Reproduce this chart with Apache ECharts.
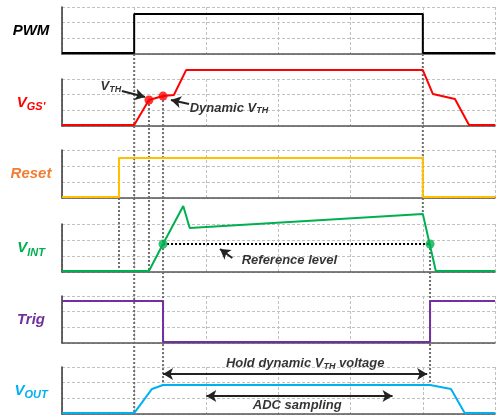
<!DOCTYPE html>
<html><head><meta charset="utf-8">
<script src="https://cdn.jsdelivr.net/npm/echarts@6/dist/echarts.min.js"></script>
<style>html,body{margin:0;padding:0;background:#fff}#c{width:499px;height:419px}</style>
</head><body><div id="c"></div>
<script>
// panel names (y-axis labels)
const panelNames = ['PWM', "VGS'", 'Reset', 'VINT', 'Trig', 'VOUT'];
// signal waveforms: [time, level] in grid units (time 0..6, level 0..3)
const pwm   = [[0,0.06],[1.0,0.06],[1.0,2.55],[5.0,2.55],[5.0,0.06],[6,0.06]];
const vgs   = [[0,0.06],[1.0,0.06],[1.205,1.66],[1.40,1.91],[1.55,1.98],[1.72,3.57],[5.0,3.57],[5.14,2.04],[5.445,1.72],[5.64,0.06],[6,0.06]];
const reset = [[0,0.06],[0.79,0.06],[0.79,2.5],[5.0,2.5],[5.0,0.06],[6,0.06]];
const vint  = [[0,0.06],[1.205,0.06],[1.40,1.75],[1.68,4.12],[1.77,2.75],[5.0,3.62],[5.18,0.06],[6,0.06]];
const trig  = [[0,2.68],[1.40,2.68],[1.40,0.06],[5.10,0.06],[5.10,2.68],[6,2.68]];
const vout  = [[0,0.06],[1.0,0.06],[1.247,1.6],[1.40,1.85],[5.10,1.85],[5.39,1.6],[5.58,0.06],[6,0.06]];
// key points
const vgsDots  = [[1.205,1.66],[1.40,1.91]];
const vintDots = [[1.40,1.75],[5.10,1.75]];
const refLevel = [[1.40,1.75],[5.10,1.75]];
// vertical dotted markers: [time, fromPanel, fromLevel, toPanel, toLevel]
const markers = [
  [1.0, 0, 0, 5, 0],
  [0.79, 2, 0, 3, 0],
  [1.205, 1, 1.66, 3, 0.06],
  [1.40, 1, 1.91, 5, 1.85],
  [5.0, 0, 0, 3, 3.62],
  [5.10, 3, 1.75, 5, 1.85]
];
// arrows: [panel, x1, y1, x2, y2, both]
const arrows = [
  [1, 0.83, 2.23, 1.15, 1.85, false],
  [1, 1.76, 1.40, 1.51, 1.66, false],
  [3, 2.36, 0.875, 2.19, 1.44, false],
  [5, 1.40, 2.55, 5.06, 2.55, true],
  [5, 2.0, 1.15, 4.58, 1.15, true]
];
// text annotations: [panel, x, y, rich text, anchor]
const notes = [
  [1, 0.82, 2.55, '{t|V}{s|TH}', 'left'],
  [1, 1.77, 1.15, '{t|Dynamic V}{s|TH}', 'right'],
  [3, 2.49, 0.75, '{t|Reference level}', 'right'],
  [5, 3.37, 3.25, '{t|Hold dynamic V}{s|TH}{t| voltage}', 'inside'],
  [5, 3.26, 0.57, '{t|ADC sampling}', 'inside']
];

const colors = ['#000000', '#ff0000', '#ffc000', '#00b050', '#7030a0', '#00b0f0'];
const labelColors = ['#000000', '#ff0000', '#f07d32', '#00b050', '#7030a0', '#00b0f0'];
const labelFmt = ['{m|PWM}', "{m|V}{s|GS'}", '{m|Reset}', '{m|V}{s|INT}', '{m|Trig}', '{m|V}{s|OUT}'];
const signals = [pwm, vgs, reset, vint, trig, vout];
const tops = [7, 79, 150, 224, 296, 367];
const heights = [47, 47, 48, 48, 47, 47];
const FONT = 'Liberation Sans, Arial, sans-serif';

const chart = echarts.init(document.getElementById('c'), null, {renderer: 'canvas'});
const grid = [], xAxis = [], yAxis = [], series = [];
for (let i = 0; i < 6; i++) {
  grid.push({left: 62, right: 4, top: tops[i], height: heights[i]});
  xAxis.push({type: 'value', gridIndex: i, min: 0, max: 6, interval: 1,
    axisLine: {show: true, onZero: false, lineStyle: {color: '#555', width: 1.5}},
    axisTick: {show: false}, axisLabel: {show: false},
    splitLine: {show: true, lineStyle: {color: '#c0c0c0', type: [3, 2], width: 1}}});
  const lc = labelColors[i];
  yAxis.push({type: 'value', gridIndex: i, min: 0, max: 3, interval: 1,
    name: labelFmt[i], nameLocation: 'middle', nameRotate: 0, nameGap: 31,
    nameTextStyle: {align: 'center', verticalAlign: 'middle',
      rich: {m: {fontFamily: FONT, fontSize: 15, fontWeight: 'bold', fontStyle: 'italic', color: lc},
             s: {fontFamily: FONT, fontSize: 11, fontWeight: 'bold', fontStyle: 'italic', color: lc, padding: [9, 0, 0, 0]}}},
    axisLine: {show: true, lineStyle: {color: '#333', width: 1.5}},
    axisTick: {show: false}, axisLabel: {show: false},
    splitLine: {show: true, lineStyle: {color: '#c0c0c0', type: [3, 2], width: 1}}});
  series.push({type: 'line', xAxisIndex: i, yAxisIndex: i, data: signals[i], symbol: 'none', clip: false, z: 5,
    lineStyle: {color: colors[i], width: 2}});
}
series.push({type: 'line', xAxisIndex: 3, yAxisIndex: 3, data: refLevel, symbol: 'none', clip: false, z: 4,
  lineStyle: {color: '#000', width: 2, type: [2, 2]}});
series.push({type: 'scatter', xAxisIndex: 1, yAxisIndex: 1, data: vgsDots, symbolSize: 9, z: 6, clip: false,
  itemStyle: {color: '#ff0000'}});
series.push({type: 'scatter', xAxisIndex: 3, yAxisIndex: 3, data: vintDots, symbolSize: 9, z: 6, clip: false,
  itemStyle: {color: '#00b050'}});
arrows.forEach(a => {
  series.push({type: 'line', xAxisIndex: a[0], yAxisIndex: a[0], data: [], symbol: 'none',
    markLine: {silent: true, symbol: a[5] ? ['arrow', 'arrow'] : ['none', 'arrow'], symbolSize: [9, 10],
      label: {show: false}, lineStyle: {color: '#222', type: 'solid', width: 2},
      data: [[{coord: [a[1], a[2]]}, {coord: [a[3], a[4]]}]]}});
});
notes.forEach(n => {
  series.push({type: 'scatter', xAxisIndex: n[0], yAxisIndex: n[0], data: [[n[1], n[2]]], symbolSize: 0, clip: false, z: 7,
    label: {show: true, position: n[4], distance: 0, formatter: n[3],
      rich: {t: {fontFamily: FONT, fontSize: 13, fontWeight: 'bold', fontStyle: 'italic', color: '#000'},
             s: {fontFamily: FONT, fontSize: 9, fontWeight: 'bold', fontStyle: 'italic', color: '#000', padding: [6, 0, 0, 0]}}}});
});
chart.setOption({animation: false, grid, xAxis, yAxis, series});

const els = markers.map(m => {
  const p1 = chart.convertToPixel({gridIndex: m[1]}, [m[0], m[2]]);
  const p2 = chart.convertToPixel({gridIndex: m[3]}, [m[0], m[4]]);
  return {type: 'line', silent: true, z: 1,
    shape: {x1: p1[0], y1: p1[1], x2: p2[0], y2: p2[1]},
    style: {stroke: '#6e6e6e', lineWidth: 2, lineDash: [2, 2]}};
});
chart.setOption({graphic: els});
</script></body></html>
